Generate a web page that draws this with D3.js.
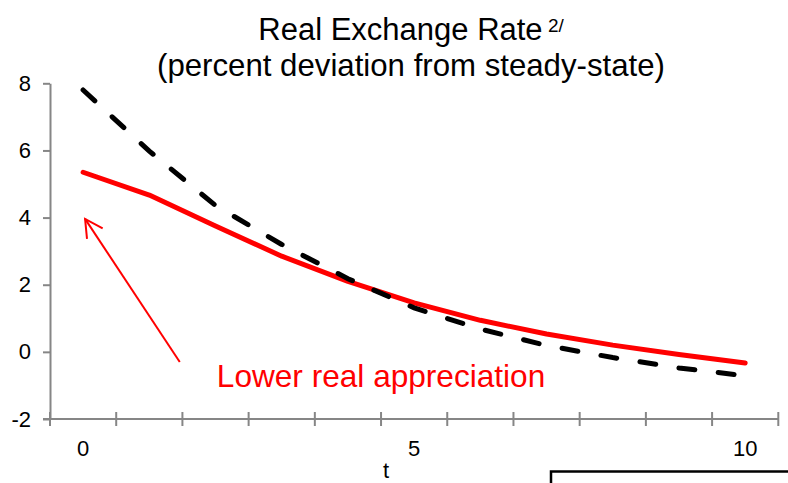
<!DOCTYPE html>
<html>
<head>
<meta charset="utf-8">
<script src="https://cdn.jsdelivr.net/npm/d3@7"></script>
<style>
  html, body { margin: 0; padding: 0; background: #fff; }
  svg { display: block; font-family: "Liberation Sans", Arial, sans-serif; }
</style>
</head>
<body>
<svg id="chart" width="788" height="483"></svg>
<script>
// ---- data ----
const periods = [0, 1, 2, 3, 4, 5, 6, 7, 8, 9, 10];
const lowerAppreciation = [5.35, 4.67, 3.75, 2.85, 2.1, 1.46, 0.94, 0.53, 0.2, -0.08, -0.33];
const baseline = [7.8, 5.98, 4.36, 3.2, 2.18, 1.31, 0.68, 0.19, -0.17, -0.48, -0.71];
const yTicks = [-2, 0, 2, 4, 6, 8];
const xLabelTicks = [0, 5, 10];
const titleLine1 = "Real Exchange Rate";
const titleSup = " 2/";
const titleLine2 = "(percent deviation from steady-state)";
const xTitle = "t";
const annotationText = "Lower real appreciation";
const arrowFrom = [1.46, -0.3];
const arrowTo = [0.03, 3.96];
const annotationPos = [2.02, -1.05];

(function () {
// ---- layout ----
const svg = d3.select("#chart");
const plotLeft = 50, plotRight = 778.3, plotTop = 83.3, plotBottom = 419;
const axisColor = "#868686";

const x = d3.scalePoint().domain(periods).range([plotLeft, plotRight]).padding(0.5);
const xBand = d3.scaleBand().domain(periods).range([plotLeft, plotRight]);
const y = d3.scaleLinear().domain([-2, 8]).range([plotBottom, plotTop]);
const xc = v => plotLeft + (v + 0.5) * xBand.step(); // continuous category position

// title
const title = svg.append("text")
  .attr("x", 411).attr("y", 40)
  .attr("text-anchor", "middle")
  .style("font-size", "31px").attr("fill", "#000");
title.append("tspan").text(titleLine1);
title.append("tspan").text(titleSup).style("font-size", "19px").attr("dy", -8);
svg.append("text")
  .attr("x", 411).attr("y", 76)
  .attr("text-anchor", "middle")
  .style("font-size", "31.2px").attr("fill", "#000")
  .text(titleLine2);

// y axis
const yAxis = svg.append("g")
  .attr("transform", `translate(${plotLeft},0)`)
  .call(d3.axisLeft(y).tickValues(yTicks).tickSize(7).tickSizeOuter(0).tickPadding(12)
    .tickFormat(d => String(d)));
yAxis.select(".domain").attr("stroke", axisColor).attr("stroke-width", 2);
yAxis.selectAll(".tick line").attr("stroke", axisColor).attr("stroke-width", 2);
yAxis.selectAll(".tick text")
  .style("font-size", "22px")
  .style("font-family", "'Liberation Sans', Arial, sans-serif")
  .attr("fill", "#000");

// x axis (category axis, ticks between categories)
const xAxis = svg.append("g");
xAxis.append("line")
  .attr("x1", plotLeft - 7).attr("x2", plotRight)
  .attr("y1", plotBottom).attr("y2", plotBottom)
  .attr("stroke", axisColor).attr("stroke-width", 2);
const boundaries = periods.map(p => xBand(p)).concat([xBand(periods[periods.length - 1]) + xBand.bandwidth()]);
xAxis.selectAll("line.tick")
  .data(boundaries).enter().append("line")
  .attr("class", "tick")
  .attr("x1", d => d).attr("x2", d => d)
  .attr("y1", plotBottom - 7).attr("y2", plotBottom + 7)
  .attr("stroke", axisColor).attr("stroke-width", 2);
xAxis.selectAll("text.lbl")
  .data(xLabelTicks).enter().append("text")
  .attr("class", "lbl")
  .attr("x", d => x(d)).attr("y", plotBottom + 37)
  .attr("text-anchor", "middle")
  .style("font-size", "22px").attr("fill", "#000")
  .text(d => d);
svg.append("text")
  .attr("x", 386).attr("y", 478)
  .attr("text-anchor", "middle")
  .style("font-size", "22px").attr("fill", "#000")
  .text(xTitle);

// lines
const line = d3.line().x((d, i) => x(periods[i])).y(d => y(d));
svg.append("path")
  .datum(lowerAppreciation)
  .attr("d", line)
  .attr("fill", "none").attr("stroke", "#ff0000")
  .attr("stroke-width", 5).attr("stroke-linejoin", "round").attr("stroke-linecap", "round");
svg.append("path")
  .datum(baseline)
  .attr("d", line)
  .attr("fill", "none").attr("stroke", "#000")
  .attr("stroke-width", 5).attr("stroke-linecap", "round")
  .attr("stroke-dasharray", "16,23.5");

// annotation arrow
const tx = xc(arrowTo[0]), ty = y(arrowTo[1]);
const fx = xc(arrowFrom[0]), fy = y(arrowFrom[1]);
svg.append("line")
  .attr("x1", fx).attr("y1", fy).attr("x2", tx).attr("y2", ty)
  .attr("stroke", "#ff0000").attr("stroke-width", 2);
const ang = Math.atan2(fy - ty, fx - tx);
const headLen = 20, spread = 28 * Math.PI / 180;
const headPts = [
  [tx + headLen * Math.cos(ang - spread), ty + headLen * Math.sin(ang - spread)],
  [tx, ty],
  [tx + headLen * Math.cos(ang + spread), ty + headLen * Math.sin(ang + spread)]
];
svg.append("path")
  .attr("d", d3.line()(headPts))
  .attr("fill", "none").attr("stroke", "#ff0000").attr("stroke-width", 2);

svg.append("text")
  .attr("x", xc(annotationPos[0])).attr("y", y(annotationPos[1]))
  .style("font-size", "31.6px").attr("fill", "#ff0000")
  .text(annotationText);

// cut-off legend box at bottom right
svg.append("rect")
  .attr("x", 551).attr("y", 471.5)
  .attr("width", 300).attr("height", 100)
  .attr("fill", "none").attr("stroke", "#000").attr("stroke-width", 2.5);
})();
</script>
</body>
</html>
